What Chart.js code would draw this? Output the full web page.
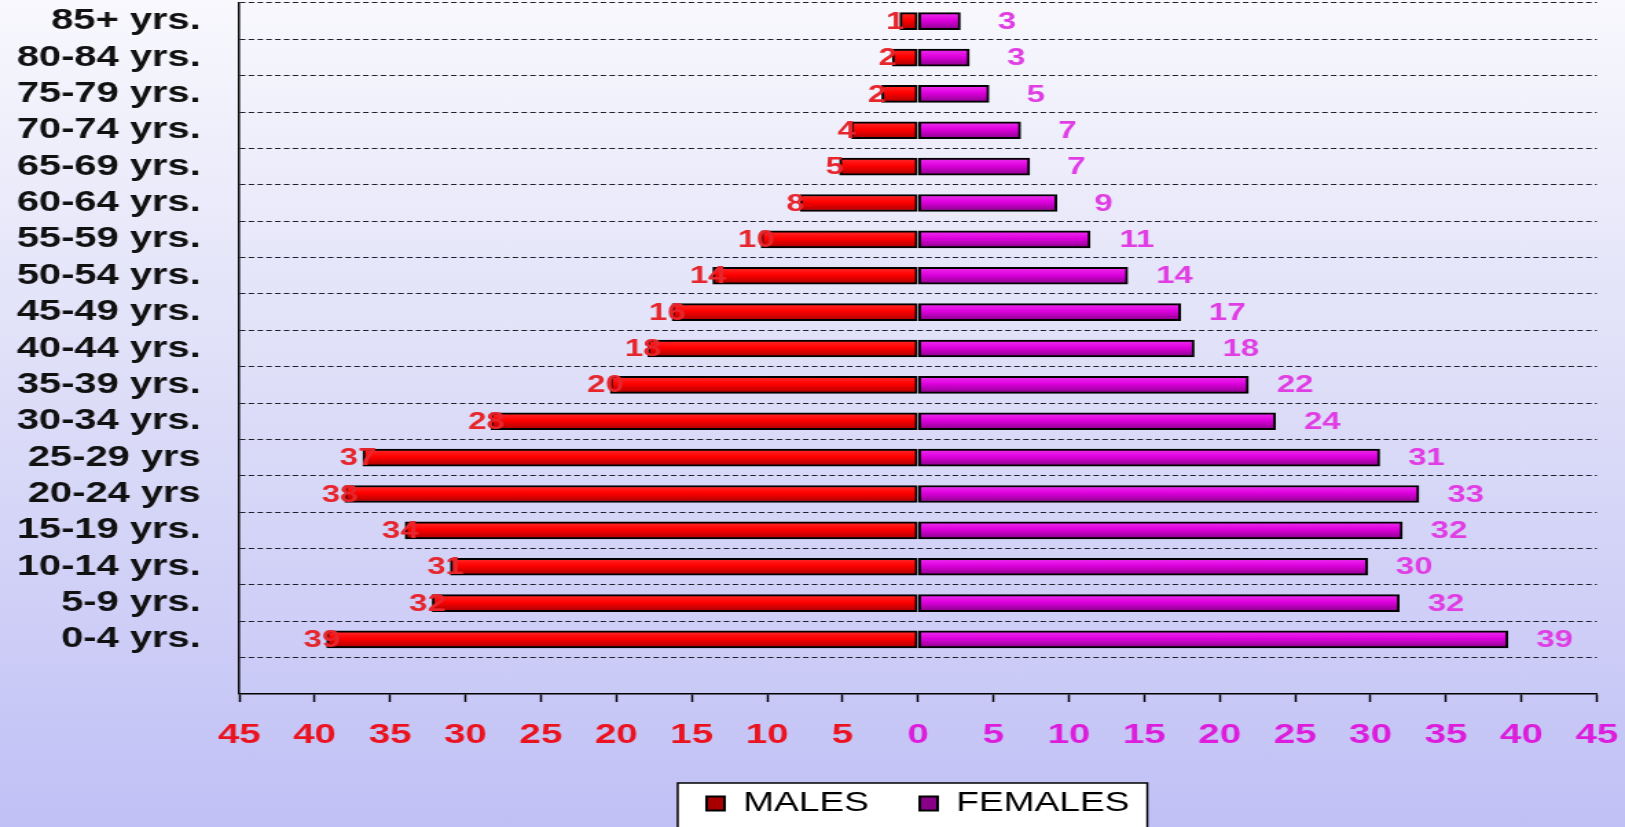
<!DOCTYPE html>
<html>
<head>
<meta charset="utf-8">
<script src="https://cdn.jsdelivr.net/npm/chart.js@4.4.1/dist/chart.umd.min.js"></script>
<style>
html,body{margin:0;padding:0;width:1625px;height:827px;overflow:hidden;}
body{background:linear-gradient(to bottom,#f8f8fd 0%,#dcdcf8 50%,#c0c0f6 100%);}
#wrap{position:absolute;left:0;top:0;width:1182px;height:827px;transform:scaleX(1.374788);transform-origin:0 0;}
</style>
</head>
<body>
<div id="wrap"><canvas id="c"></canvas></div>
<script>
// ---- data (top row first) ----
const ageGroups = ['85+ yrs.','80-84 yrs.','75-79 yrs.','70-74 yrs.','65-69 yrs.','60-64 yrs.','55-59 yrs.','50-54 yrs.','45-49 yrs.','40-44 yrs.','35-39 yrs.','30-34 yrs.','25-29 yrs','20-24 yrs','15-19 yrs.','10-14 yrs.','5-9 yrs.','0-4 yrs.'];
const males   = [1.2, 1.7, 2.4, 4.4, 5.2, 7.8, 10.4, 13.6, 16.3, 17.9, 20.4, 28.3, 36.8, 38.0, 34.0, 31.0, 32.2, 39.2];
const females = [2.8, 3.4, 4.7, 6.8, 7.4, 9.2, 11.4, 13.9, 17.4, 18.3, 21.9, 23.7, 30.6, 33.2, 32.1, 29.8, 31.9, 39.1];
const seriesNames = ['MALES', 'FEMALES'];
const xMin = -45, xMax = 45, xStep = 5;

// ---- styles ----
const FONT = '"Liberation Sans", Arial, Helvetica, sans-serif';
const RED = '#ea1420', MAG = '#dc1edc';
const RED_LBL = '#e6262c', MAG_LBL = '#e03ee4';

function barGradient(c, stops, solid) {
  const chart = c.chart;
  const ys = chart.scales && chart.scales.y;
  if (c.type !== 'data' || !ys || !isFinite(ys.top)) return solid;
  const cy = ys.getPixelForValue(c.dataIndex);
  const g = chart.ctx.createLinearGradient(0, cy - 8.5, 0, cy + 8.5);
  g.addColorStop(0, stops[0]);
  g.addColorStop(0.45, stops[1]);
  g.addColorStop(1, stops[2]);
  return g;
}

const legendBoxPlugin = {
  id: 'legendBox',
  beforeDraw(chart) {
    const lg = chart.legend;
    if (!lg || !lg.legendHitBoxes || !lg.legendHitBoxes.length) return;
    const hb = lg.legendHitBoxes;
    const first = hb[0], last = hb[hb.length - 1];
    const left = first.left - 21, right = last.left + last.width + 13;
    const top = first.top - 7;
    const ctx = chart.ctx;
    ctx.save();
    ctx.fillStyle = '#ffffff';
    ctx.fillRect(left, top, right - left, chart.height - top + 5);
    ctx.lineWidth = 1.5;
    ctx.strokeStyle = '#000000';
    ctx.strokeRect(left, top, right - left, chart.height - top + 5);
    ctx.restore();
  }
};

const valueLabelPlugin = {
  id: 'valueLabels',
  afterDatasetsDraw(chart) {
    const ctx = chart.ctx;
    ctx.save();
    ctx.font = 'bold 24px ' + FONT;
    ctx.textAlign = 'center';
    ctx.textBaseline = 'middle';
    chart.data.datasets.forEach((ds, di) => {
      const meta = chart.getDatasetMeta(di);
      meta.data.forEach((el, i) => {
        const v = ds.data[i];
        if (v == null) return;
        const off = di === 0 ? -3.5 : 34;
        ctx.fillStyle = di === 0 ? RED_LBL : MAG_LBL;
        ctx.fillText(String(Math.round(Math.abs(v))), el.x + off, el.y + 1);
      });
    });
    ctx.restore();
  }
};

new Chart(document.getElementById('c'), {
  type: 'bar',
  data: {
    labels: [...ageGroups, ''],
    datasets: [
      {
        label: seriesNames[0],
        data: males.map(v => -v),
        backgroundColor: c => barGradient(c, ['#ff2a2a', '#ff0000', '#a80000'], '#ee0000'),
        borderColor: '#000',
        borderWidth: 2,
        borderSkipped: false,
        barThickness: 17
      },
      {
        label: seriesNames[1],
        data: females,
        backgroundColor: c => barGradient(c, ['#ee30ee', '#dd00dd', '#880088'], '#cc00cc'),
        borderColor: '#000',
        borderWidth: 2,
        borderSkipped: false,
        barThickness: 17
      }
    ]
  },
  options: {
    indexAxis: 'y',
    responsive: true,
    maintainAspectRatio: false,
    animation: false,
    devicePixelRatio: 1,
    layout: { padding: { top: 3, right: 20.5, left: 0, bottom: 0 } },
    scales: {
      x: {
        stacked: true,
        min: xMin, max: xMax,
        ticks: {
          stepSize: xStep,
          autoSkip: false,
          maxRotation: 0,
          padding: 16,
          font: { family: FONT, size: 28, weight: 'bold' },
          color: c => (c.tick && c.tick.value < 0) ? RED : MAG,
          callback: v => Math.abs(v)
        },
        grid: { drawOnChartArea: false, drawTicks: true, tickLength: 8, tickColor: '#000', tickWidth: 1.5 },
        border: { display: true, color: '#000', width: 1.5 },
        afterFit: s => { s.paddingLeft = 0; s.paddingRight = 0; s.height = 59; }
      },
      y: {
        stacked: true,
        ticks: {
          autoSkip: false,
          padding: 28,
          font: { family: FONT, size: 29, weight: 'bold' },
          color: '#111'
        },
        grid: { offset: true, drawTicks: false, color: '#1e1e2a', lineWidth: 1.1 },
        border: { display: true, color: '#000', width: 1.5, dash: [4, 2.4] },
        afterFit: s => { s.width = 174; s.paddingTop = 0; s.paddingBottom = 0; }
      }
    },
    plugins: {
      legend: {
        position: 'bottom',
        fullSize: false,
        labels: {
          font: { family: FONT, size: 27 },
          color: '#000',
          padding: 37,
          boxWidth: 13,
          boxHeight: 14
        }
      },
      tooltip: { enabled: false }
    }
  },
  plugins: [legendBoxPlugin, valueLabelPlugin]
});
</script>
</body>
</html>
